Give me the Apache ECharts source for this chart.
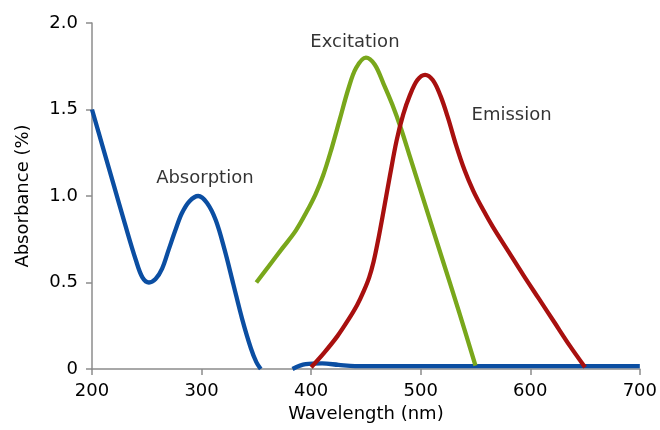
<!DOCTYPE html>
<html>
<head>
<meta charset="utf-8">
<script src="https://cdn.jsdelivr.net/npm/echarts@6/dist/echarts.min.js"></script>
<style>
  html, body { margin: 0; padding: 0; background: #fff; }
  #chart { width: 660px; height: 430px; }
</style>
</head>
<body>
<div id="chart"></div>
<script>
// Wavelength (nm) / absorbance pairs for each spectrum
const absorption = [
  [200, 1.5], [210, 1.28], [220, 1.06], [230, 0.84], [240, 0.63], [246, 0.53],
  [252, 0.5], [258, 0.52], [264, 0.58], [270, 0.69], [276, 0.8], [282, 0.9],
  [289, 0.97], [297, 1.0], [305, 0.96], [313, 0.86], [321, 0.69], [329, 0.49],
  [337, 0.29], [345, 0.12], [350, 0.04], [354, 0],
  null,
  [383, 0], [395, 0.028], [410, 0.032], [425, 0.024], [440, 0.017], [700, 0.017]
];
const excitation = [
  [350, 0.5], [362, 0.6], [374, 0.7], [386, 0.8], [396, 0.91], [404, 1.01],
  [411, 1.12], [418, 1.26], [426, 1.44], [434, 1.62], [441, 1.74], [450, 1.8],
  [458, 1.76], [466, 1.65], [474, 1.53], [482, 1.39], [490, 1.23], [505, 0.93],
  [520, 0.63], [535, 0.33], [550, 0.02]
];
const emission = [
  [400, 0.01], [412, 0.095], [424, 0.19], [434, 0.285], [442, 0.37], [448, 0.45],
  [453, 0.53], [457, 0.62], [461, 0.74], [466, 0.91], [472, 1.12], [478, 1.32],
  [484, 1.47], [490, 1.58], [497, 1.67], [504, 1.7], [511, 1.67], [518, 1.58],
  [525, 1.45], [532, 1.3], [540, 1.15], [548, 1.03], [557, 0.92], [566, 0.82],
  [580, 0.68], [594, 0.54], [608, 0.405], [622, 0.27], [636, 0.135], [650, 0.01]
];

// Curve names placed beside their peaks (data coordinates)
const curveLabels = [
  { text: 'Absorption', at: [303, 1.105] },
  { text: 'Excitation', at: [440, 1.887] },
  { text: 'Emission', at: [583, 1.465] }
];

const xTicks = { min: 200, max: 700, step: 100 };
const yTicks = { min: 0, max: 2, step: 0.5 };

const FONT = '"DejaVu Sans", "Liberation Sans", Arial, sans-serif';
const FONT_SIZE = 18;
const TEXT = '#000';
const AXIS_GRAY = '#8c8c8c';

const chart = echarts.init(document.getElementById('chart'), null, { renderer: 'canvas' });

function lineSeries(name, data, color) {
  return {
    name: name,
    type: 'line',
    data: data,
    smooth: 0.35,
    showSymbol: false,
    connectNulls: false,
    lineStyle: { color: color, width: 4.3, cap: 'butt', join: 'round' },
    animation: false,
    z: 3
  };
}

chart.setOption({
  animation: false,
  grid: { left: 92, right: 20, top: 23, bottom: 61, containLabel: false },
  xAxis: {
    type: 'value',
    min: xTicks.min, max: xTicks.max, interval: xTicks.step,
    name: 'Wavelength (nm)',
    nameLocation: 'middle',
    nameGap: 36,
    nameTextStyle: { fontFamily: FONT, fontSize: FONT_SIZE, color: TEXT },
    axisLine: { lineStyle: { color: AXIS_GRAY, width: 1.5 } },
    axisTick: { show: true, length: 6, lineStyle: { color: AXIS_GRAY, width: 1.5 } },
    axisLabel: { fontFamily: FONT, fontSize: FONT_SIZE, color: TEXT, margin: 13 },
    splitLine: { show: false }
  },
  yAxis: {
    type: 'value',
    min: yTicks.min, max: yTicks.max, interval: yTicks.step,
    name: 'Absorbance (%)',
    nameLocation: 'middle',
    nameRotate: 90,
    nameGap: 60,
    nameTextStyle: { fontFamily: FONT, fontSize: FONT_SIZE, color: TEXT },
    axisLine: { show: true, lineStyle: { color: AXIS_GRAY, width: 1.5 } },
    axisTick: { show: true, length: 6, lineStyle: { color: AXIS_GRAY, width: 1.5 } },
    axisLabel: {
      fontFamily: FONT, fontSize: FONT_SIZE, color: TEXT, margin: 14,
      formatter: v => (v === 0 ? '0' : v.toFixed(1))
    },
    splitLine: { show: false }
  },
  series: [
    lineSeries('Absorption', absorption, '#0b4ea2'),
    lineSeries('Excitation', excitation, '#79a71b'),
    lineSeries('Emission', emission, '#a8100f'),
    {
      type: 'scatter',
      data: curveLabels.map(l => ({ value: l.at, name: l.text })),
      symbolSize: 0,
      silent: true,
      animation: false,
      label: {
        show: true, position: 'inside',
        formatter: p => p.name,
        fontFamily: FONT, fontSize: FONT_SIZE, color: TEXT
      },
      z: 5
    }
  ]
});
</script>
</body>
</html>
